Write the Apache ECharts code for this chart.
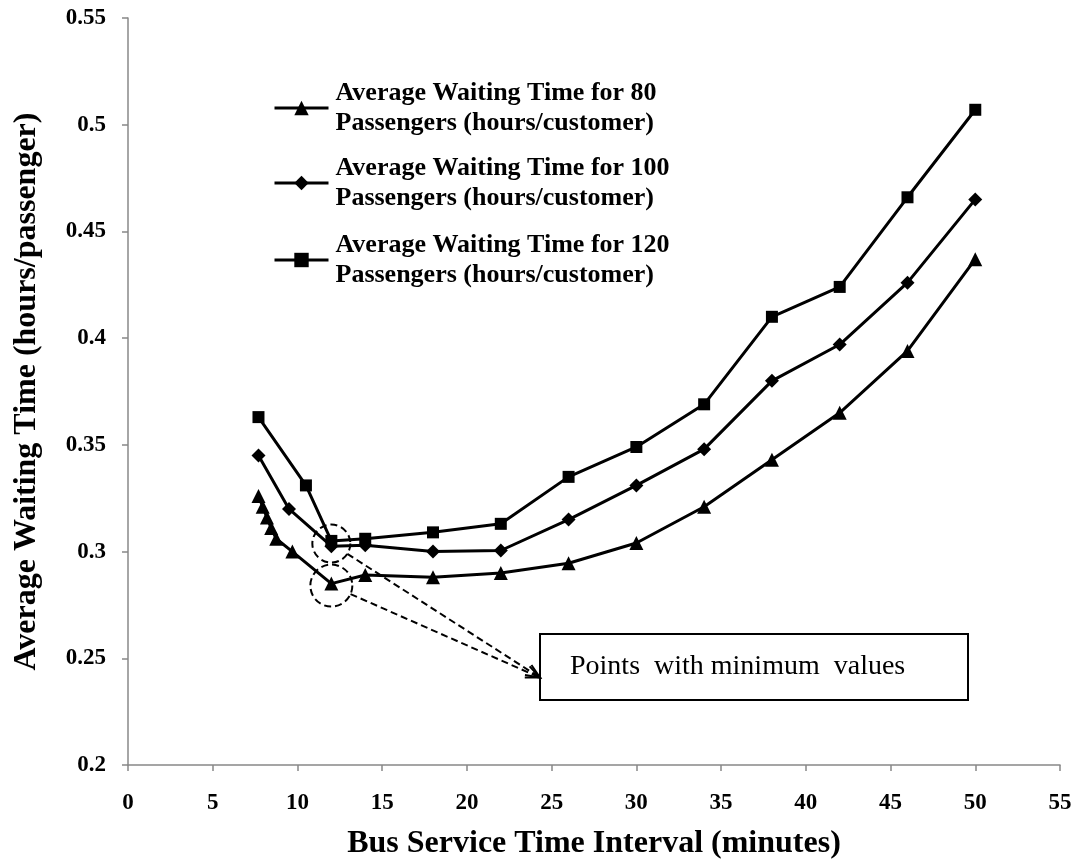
<!DOCTYPE html>
<html><head><meta charset="utf-8">
<script src="https://cdn.jsdelivr.net/npm/echarts@6/dist/echarts.min.js"></script>
<style>html,body{margin:0;padding:0;background:#fff}#c{width:1080px;height:865px}</style>
</head><body><div id="c"></div>
<script>
const seriesNames = [
  'Average Waiting Time for 80 Passengers (hours/customer)',
  'Average Waiting Time for 100 Passengers (hours/customer)',
  'Average Waiting Time for 120 Passengers (hours/customer)'
];
const x80 = [7.7, 7.95, 8.2, 8.45, 8.75, 9.7, 12, 14, 18, 22, 26, 30, 34, 38, 42, 46, 50];
const y80 = [0.326, 0.321, 0.316, 0.311, 0.306, 0.300, 0.285, 0.289, 0.288, 0.290, 0.2945, 0.304, 0.321, 0.343, 0.365, 0.394, 0.437];
const x100 = [7.7, 9.5, 12, 14, 18, 22, 26, 30, 34, 38, 42, 46, 50];
const y100 = [0.345, 0.320, 0.3025, 0.303, 0.300, 0.3005, 0.315, 0.331, 0.348, 0.380, 0.397, 0.426, 0.465];
const x120 = [7.7, 10.5, 12, 14, 18, 22, 26, 30, 34, 38, 42, 46, 50];
const y120 = [0.363, 0.331, 0.305, 0.306, 0.309, 0.313, 0.335, 0.349, 0.369, 0.410, 0.424, 0.466, 0.507];
const xTicks = [0, 5, 10, 15, 20, 25, 30, 35, 40, 45, 50, 55];
const yTicks = [0.2, 0.25, 0.3, 0.35, 0.4, 0.45, 0.5, 0.55];
const highlightedX = 12; // the circled "minimum" points
const annotationText = 'Points  with minimum  values';
const xTitle = 'Bus Service Time Interval (minutes)';
const yTitle = 'Average Waiting Time (hours/passenger)';

const FONT = 'Liberation Serif';
const zip = (xs, ys) => xs.map((x, i) => [x, ys[i]]);
const symbols = ['triangle', 'diamond', 'rect'];
const symbolSizes = [14, 14, 12];
const allX = [x80, x100, x120];
const allY = [y80, y100, y120];

const chart = echarts.init(document.getElementById('c'), null, {renderer: 'canvas'});
const legendTops = [63, 138, 215];
const option = {
  backgroundColor: '#fff',
  animation: false,
  grid: {left: 128, right: 20, top: 18, bottom: 99, containLabel: false},
  xAxis: {
    type: 'value', min: xTicks[0], max: xTicks[xTicks.length - 1], interval: 5,
    name: xTitle, nameLocation: 'middle', nameGap: 63,
    nameTextStyle: {fontFamily: FONT, fontWeight: 'bold', fontSize: 32, color: '#000'},
    axisLine: {lineStyle: {color: '#888', width: 1.5}},
    axisTick: {show: true, inside: false, length: 6, lineStyle: {color: '#888', width: 1.5}},
    axisLabel: {fontFamily: FONT, fontWeight: 'bold', fontSize: 23, color: '#000', margin: 27},
    splitLine: {show: false}
  },
  yAxis: {
    type: 'value', min: yTicks[0], max: yTicks[yTicks.length - 1], interval: 0.05,
    name: yTitle, nameLocation: 'middle', nameGap: 85, nameRotate: 90,
    nameTextStyle: {fontFamily: FONT, fontWeight: 'bold', fontSize: 32, color: '#000'},
    axisLine: {show: true, lineStyle: {color: '#888', width: 1.5}},
    axisTick: {show: true, inside: false, length: 6, lineStyle: {color: '#888', width: 1.5}},
    axisLabel: {fontFamily: FONT, fontWeight: 'bold', fontSize: 23, color: '#000', margin: 22,
      formatter: v => String(+v.toFixed(2))},
    splitLine: {show: false}
  },
  legend: seriesNames.map((n, i) => ({
    data: [{name: n}], left: 273, top: legendTops[i], orient: 'vertical', padding: 0,
    itemWidth: 54, itemHeight: 18, itemGap: 0, selectedMode: false,
    lineStyle: {width: 3, color: '#000'},
    formatter: s => s.replace(' Passengers', '\nPassengers'),
    textStyle: {fontFamily: FONT, fontWeight: 'bold', fontSize: 26, color: '#000', lineHeight: 30, padding: [30, 0, 0, 2]}
  })),
  series: seriesNames.map((n, i) => ({
    name: n, type: 'line', data: zip(allX[i], allY[i]),
    symbol: symbols[i], symbolSize: symbolSizes[i], showSymbol: true,
    lineStyle: {color: '#000', width: 3}, itemStyle: {color: '#000'},
    z: 3 + i
  }))
};
chart.setOption(option);

function addAnnotations() {
  const ptAt = i => {
    const k = allX[i].indexOf(highlightedX);
    return chart.convertToPixel({gridIndex: 0}, [allX[i][k], allY[i][k]]);
  };
  const p80 = ptAt(0), p100 = ptAt(1), p120 = ptAt(2);
  const c1 = [(p100[0] + p120[0]) / 2, (p100[1] + p120[1]) / 2];
  const c2 = [p80[0], p80[1] + 2];
  const r1 = 19, r2 = 21;
  const box = {x: 540, y: 634, w: 428, h: 66};
  const tip = [box.x, box.y + 0.66 * box.h];
  const dash = {stroke: '#000', lineWidth: 2, lineDash: [7, 4], fill: null};
  const edge = (c, r) => {
    const dx = tip[0] - c[0], dy = tip[1] - c[1], d = Math.hypot(dx, dy);
    return [c[0] + dx / d * r, c[1] + dy / d * r];
  };
  const e1 = edge(c1, r1), e2 = edge(c2, r2);
  const head = (from) => {
    const dx = tip[0] - from[0], dy = tip[1] - from[1], d = Math.hypot(dx, dy);
    const ux = dx / d, uy = dy / d, L = 14, W = 6;
    return [[tip[0] - ux * L - uy * W, tip[1] - uy * L + ux * W], tip, [tip[0] - ux * L + uy * W, tip[1] - uy * L - ux * W]];
  };
  chart.setOption({
    graphic: [
      {type: 'circle', shape: {cx: c1[0], cy: c1[1], r: r1}, style: dash, z: 10},
      {type: 'circle', shape: {cx: c2[0], cy: c2[1], r: r2}, style: dash, z: 10},
      {type: 'line', shape: {x1: e1[0], y1: e1[1], x2: tip[0], y2: tip[1]}, style: dash, z: 10},
      {type: 'line', shape: {x1: e2[0], y1: e2[1], x2: tip[0], y2: tip[1]}, style: dash, z: 10},
      {type: 'polyline', shape: {points: head(e1)}, style: {stroke: '#000', lineWidth: 2, fill: null}, z: 10},
      {type: 'polyline', shape: {points: head(e2)}, style: {stroke: '#000', lineWidth: 2, fill: null}, z: 10},
      {type: 'rect', shape: {x: box.x, y: box.y, width: box.w, height: box.h},
        style: {stroke: '#000', lineWidth: 2, fill: '#fff'}, z: 9},
      {type: 'text', x: box.x + 30, y: box.y + box.h / 2,
        style: {text: annotationText, fontFamily: FONT, fontSize: 28, fill: '#000', verticalAlign: 'middle', whiteSpace: 'pre'}, z: 11}
    ]
  });
}
addAnnotations();
</script>
</body></html>
